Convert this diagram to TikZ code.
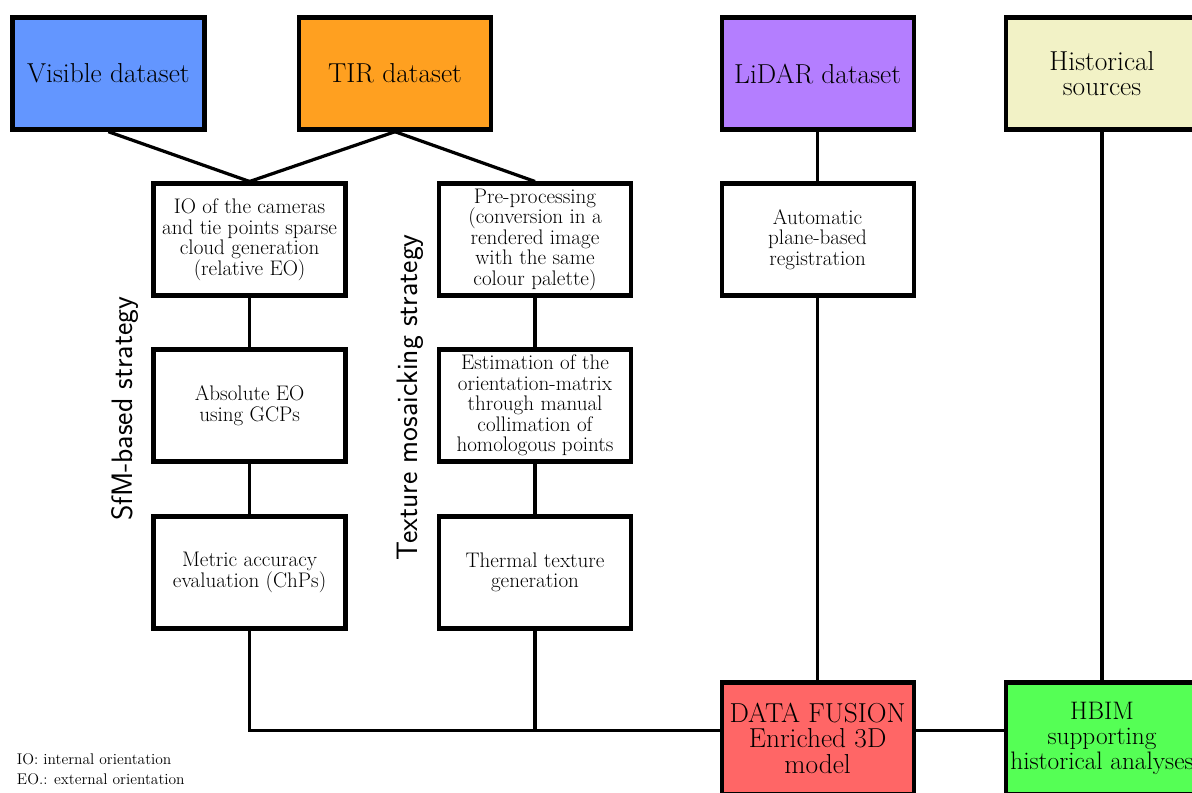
\documentclass[tikz,border=0pt]{standalone}
\usetikzlibrary{calc}
\definecolor{visblue}{RGB}{99,150,255}
\definecolor{tirorange}{RGB}{255,160,32}
\definecolor{lidarpurple}{RGB}{180,126,255}
\definecolor{histyellow}{RGB}{242,242,198}
\definecolor{fusionred}{RGB}{255,102,102}
\definecolor{hbimgreen}{RGB}{85,255,85}

\begin{document}
\begin{tikzpicture}[
  box/.style={draw=black, line width=3pt, fill=white, minimum width=4.8cm, minimum height=2.8cm, align=center, inner sep=2pt, font=\fontsize{15}{14.6}\selectfont},
  headbox/.style={box, font=\fontsize{19.5}{17.8}\selectfont},
  link/.style={line width=2.3pt},
  strategy/.style={rotate=90, font=\sffamily\fontsize{21}{21}\selectfont}
]
\useasboundingbox (0,0) rectangle (29.8,-19.8);

% data sources
\node[headbox, fill=visblue] (vis) at (2.71,-1.84) {Visible dataset};
\node[headbox, fill=tirorange] (tir) at (9.875,-1.84) {TIR dataset};
\node[headbox, fill=lidarpurple] (lidar) at (20.44,-1.84) {LiDAR dataset};
\node[headbox, fill=histyellow] (hist) at (27.55,-1.84) {Historical\\sources};

% SfM branch
\node[box] (io) at (6.24,-5.99) {IO of the cameras\\and tie points sparse\\cloud generation\\(relative EO)};
\node[box] (abs) at (6.24,-10.14) {Absolute EO\\using GCPs};
\node[box] (metric) at (6.24,-14.31) {Metric accuracy\\evaluation (ChPs)};

% texture branch
\node[box] (pre) at (13.375,-5.99) {Pre-processing\\(conversion in a\\rendered image\\with the same\\colour palette)};
\node[box] (est) at (13.375,-10.14) {Estimation of the\\orientation-matrix\\through manual\\collimation of\\homologous points};
\node[box] (thermal) at (13.375,-14.31) {Thermal texture\\generation};

\node[box] (auto) at (20.44,-5.99) {Automatic\\plane-based\\registration};

% results
\node[headbox, fill=fusionred] (fusion) at (20.44,-18.46) {DATA FUSION\\Enriched 3D\\model};
\node[headbox, fill=hbimgreen, font=\fontsize{18}{17.8}\selectfont] (hbim) at (27.55,-18.46) {HBIM\\supporting\\historical analyses};

\node[strategy] (sfm) at (3.125,-10.22) {SfM-based strategy};
\node[strategy] (mosaic) at (10.25,-9.93) {Texture mosaicking strategy};

\node[anchor=north west, align=left, font=\fontsize{11}{14}\selectfont] (notes) at (0.3,-18.72) {IO: internal orientation\\EO.: external orientation};

% connectors
\coordinate (join) at ([yshift=0.19cm]fusion.west);
\draw[link] (vis.south) -- (io.north);
\draw[link] (tir.south) -- (io.north);
\draw[link] (tir.south) -- (pre.north);
\draw[link] (io) -- (abs);
\draw[link] (abs) -- (metric);
\draw[link] (pre) -- (est);
\draw[link] (est) -- (thermal);
\draw[link] (lidar) -- (auto);
\draw[link] (auto) -- (fusion);
\draw[link] (hist) -- (hbim);
\draw[link] (metric.south) |- (join);
\draw[link] (thermal.south) -- (thermal.south |- join);
\draw[link] (fusion.east |- join) -- (hbim.west |- join);
\end{tikzpicture}
\end{document}
